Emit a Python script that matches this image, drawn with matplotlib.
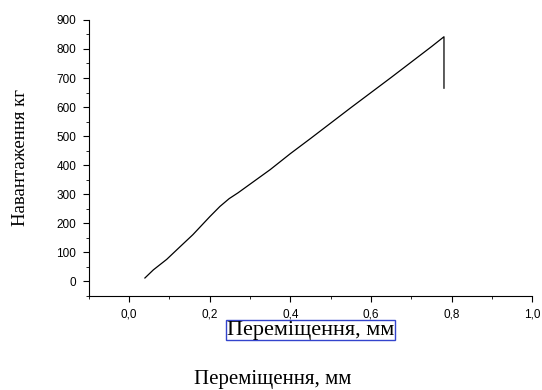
import numpy as np
import matplotlib
matplotlib.use('Agg')
import matplotlib.pyplot as plt
from matplotlib.ticker import MultipleLocator, FuncFormatter

# displacement (mm) and load (kg)
disp = [0.039, 0.06, 0.093, 0.125, 0.158, 0.2, 0.225, 0.248, 0.27, 0.3, 0.35,
        0.4, 0.45, 0.5, 0.55, 0.6, 0.65, 0.7, 0.75, 0.781, 0.781]
load = [12, 40, 76, 118, 161, 223, 258, 285, 305, 335, 385,
        440, 492, 545, 598, 650, 702, 755, 808, 842, 665]

fig = plt.figure(figsize=(5.42, 3.9), dpi=100)
ax = fig.add_axes([0.164, 0.241, 0.818, 0.708])
ax.plot(disp, load, color='black', lw=0.9)

ax.set_xlim(-0.1, 1.0)
ax.set_ylim(-50, 900)
ax.spines['top'].set_visible(False)
ax.spines['right'].set_visible(False)
ax.xaxis.set_major_locator(MultipleLocator(0.2))
ax.xaxis.set_minor_locator(MultipleLocator(0.1))
ax.yaxis.set_major_locator(MultipleLocator(100))
ax.yaxis.set_minor_locator(MultipleLocator(50))
ax.xaxis.set_major_formatter(FuncFormatter(lambda v, p: f"{v:.1f}".replace('.', ',')))
ax.tick_params(which='both', direction='out', labelsize=8.5, pad=5)
ax.tick_params(which='major', length=4)
ax.tick_params(which='minor', length=2.5)
for lab in ax.get_xticklabels() + ax.get_yticklabels():
    lab.set_family('Liberation Sans')

ax.set_xlabel('Переміщення, мм', family='Liberation Serif', fontsize=16, labelpad=0,
              bbox=dict(facecolor='white', edgecolor='#3344cc', pad=0.5, lw=1))
ax.set_ylabel('Навантаження кг', family='Liberation Serif', fontsize=13.5, labelpad=20)

fig.text(0.503, 0.003, 'Переміщення, мм', family='Liberation Serif', fontsize=15,
         ha='center', va='bottom')

fig.savefig('out.png', dpi=100)
